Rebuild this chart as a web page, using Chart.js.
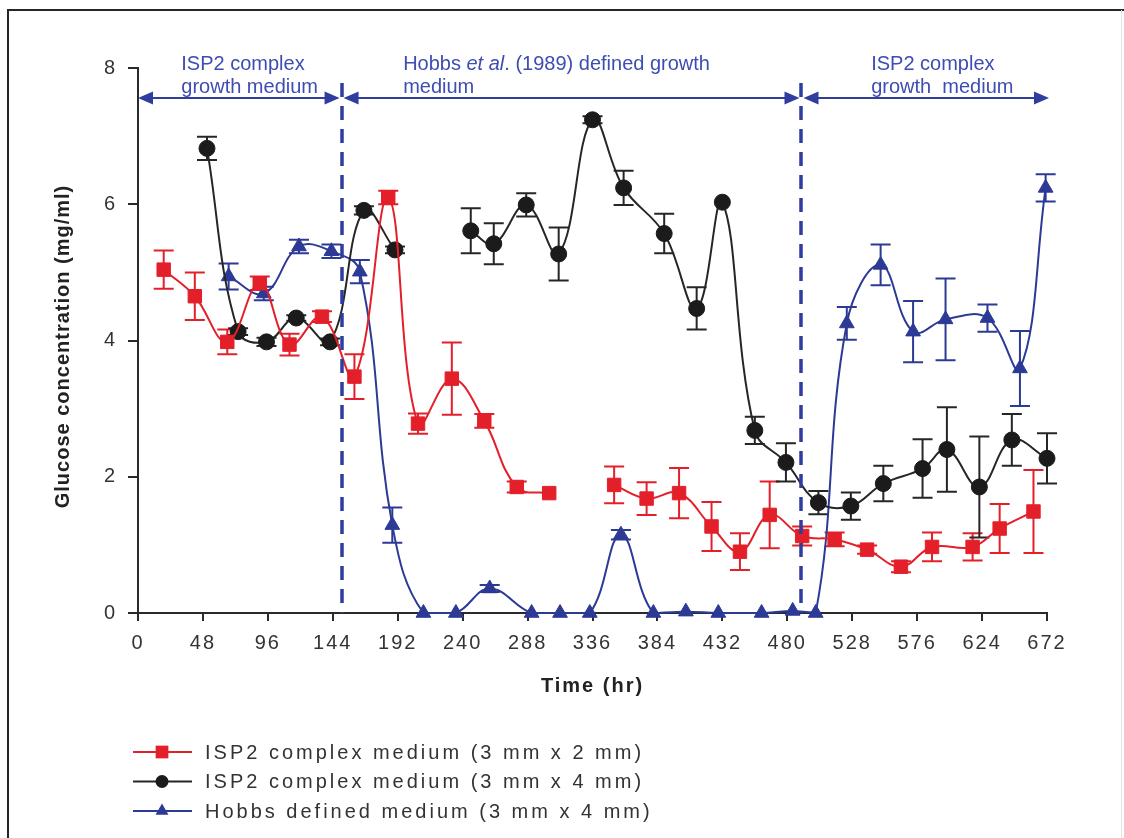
<!DOCTYPE html>
<html>
<head>
<meta charset="utf-8">
<title>Glucose concentration over time</title>
<script src="https://cdn.jsdelivr.net/npm/chart.js@4/dist/chart.umd.min.js"></script>
<style>
  html, body { margin: 0; padding: 0; background: #ffffff; }
  canvas { display: block; }
</style>
</head>
<body>
<canvas id="glucoseChart" width="1124" height="838"></canvas>
<script>
// ---- data ---------------------------------------------------------------
const xTickHours = [0, 48, 96, 144, 192, 240, 288, 336, 384, 432, 480, 528, 576, 624, 672];
const yTickValues = [0, 2, 4, 6, 8];

const seriesLabels = [
  'ISP2 complex medium (3 mm x 2 mm)',
  'ISP2 complex medium (3 mm x 4 mm)',
  'Hobbs defined medium (3 mm x 4 mm)'
];

// ISP2 complex medium, 3 mm x 2 mm beads (null = no sample taken)
const isp2SmallHours   = [19, 42, 66, 90, 112, 136, 160, 185, 207, 232, 256, 280, 304, 328, 352, 376, 400, 424, 445, 467, 491, 515, 539, 564, 587, 617, 637, 662];
const isp2SmallGlucose = [5.04, 4.65, 3.98, 4.84, 3.94, 4.35, 3.47, 6.10, 2.78, 3.44, 2.82, 1.85, 1.76, null, 1.88, 1.68, 1.76, 1.27, 0.90, 1.44, 1.13, 1.08, 0.93, 0.68, 0.97, 0.97, 1.24, 1.49];
const isp2SmallSd      = [0.28, 0.35, 0.18, 0.10, 0.16, 0.08, 0.33, 0.10, 0.15, 0.53, 0.10, 0.08, 0, null, 0.27, 0.24, 0.37, 0.36, 0.27, 0.49, 0.14, 0.10, 0.06, 0.08, 0.21, 0.20, 0.36, 0.61];

// ISP2 complex medium, 3 mm x 4 mm beads
const isp2LargeHours   = [51, 74, 95, 117, 142, 167, 190, 215, 246, 263, 287, 311, 336, 359, 389, 413, 432, 456, 479, 503, 527, 551, 580, 598, 622, 646, 672];
const isp2LargeGlucose = [6.82, 4.13, 3.98, 4.33, 3.98, 5.91, 5.33, null, 5.61, 5.42, 5.99, 5.27, 7.24, 6.24, 5.57, 4.47, 6.03, 2.68, 2.21, 1.62, 1.57, 1.90, 2.12, 2.40, 1.85, 2.54, 2.27];
const isp2LargeSd      = [0.17, 0.05, 0.06, 0.04, 0.05, 0.06, 0.05, null, 0.33, 0.30, 0.17, 0.39, 0.05, 0.25, 0.29, 0.31, 0, 0.20, 0.28, 0.17, 0.20, 0.26, 0.43, 0.62, 0.74, 0.38, 0.37];

// Hobbs defined medium, 3 mm x 4 mm beads
const hobbsHours   = [67, 93, 119, 143, 164, 188, 211, 235, 260, 291, 312, 334, 357, 381, 405, 429, 461, 484, 501, 524, 549, 573, 597, 628, 652, 671];
const hobbsGlucose = [4.94, 4.69, 5.38, 5.31, 5.01, 1.29, 0, 0, 0.36, 0, 0, 0, 1.15, 0, 0.02, 0, 0, 0.03, 0, 4.25, 5.11, 4.13, 4.31, 4.33, 3.59, 6.24];
const hobbsSd      = [0.19, 0.10, 0.10, 0.10, 0.17, 0.26, 0, 0, 0.05, 0, 0, 0, 0.07, 0, 0, 0, 0, 0, 0, 0.24, 0.30, 0.45, 0.60, 0.20, 0.55, 0.20];

// medium changes (hours) and the phase captions above the plot
const mediumChangeHours = [150.5, 490.5];
const phaseSpans = [[0, 150.5], [150.5, 490.5], [490.5, 672]];
const phaseCaptionHours = [32, 196, 542];
const phaseCaptions = [
  [[['ISP2 complex', '']], [['growth medium', '']]],
  [[['Hobbs ', ''], ['et al', 'italic '], ['. (1989) defined growth', '']], [['medium', '']]],
  [[['ISP2 complex', '']], [['growth  medium', '']]]
];
const arrowLevel = 7.56;

// ---- styling ------------------------------------------------------------
const FONT = "'Liberation Sans', Arial, Helvetica, sans-serif";
const RED = '#e3202a';
const BLACK = '#1b1b1b';
const BLUE = '#2c3a96';
const NOTE_BLUE = '#2f3d9f';
const NOTE_TEXT = '#3d4db2';
const AXIS = '#2a2a2a';
const AXIS_TEXT = '#333333';

function toPoints(hours, values) {
  return hours.map((h, i) => ({ x: h, y: values[i] }));
}

// axis labels in this figure are set with a little extra tracking
const axisTracking = {
  id: 'axisTracking',
  beforeDraw(chart) { chart.ctx.letterSpacing = '2px'; },
  beforeDatasetsDraw(chart) { chart.ctx.letterSpacing = '0px'; }
};

// vertical +/- SD bars with caps, drawn underneath the markers
const errorBars = {
  id: 'errorBars',
  beforeDatasetsDraw(chart) {
    const ctx = chart.ctx;
    const yScale = chart.scales.y;
    chart.data.datasets.forEach((ds, i) => {
      const meta = chart.getDatasetMeta(i);
      ctx.save();
      ctx.strokeStyle = ds.borderColor;
      ctx.lineWidth = 2;
      meta.data.forEach((pt, j) => {
        const v = ds.data[j].y;
        const e = ds.errorBars[j];
        if (v == null || !e) return;
        const top = yScale.getPixelForValue(v + e);
        const bot = yScale.getPixelForValue(v - e);
        ctx.beginPath();
        ctx.moveTo(pt.x, top); ctx.lineTo(pt.x, bot);
        ctx.moveTo(pt.x - 10, top); ctx.lineTo(pt.x + 10, top);
        ctx.moveTo(pt.x - 10, bot); ctx.lineTo(pt.x + 10, bot);
        ctx.stroke();
      });
      ctx.restore();
    });
  }
};

function arrowHead(ctx, tipX, y, dir) {
  ctx.beginPath();
  ctx.moveTo(tipX, y);
  ctx.lineTo(tipX - dir * 15, y - 6.5);
  ctx.lineTo(tipX - dir * 15, y + 6.5);
  ctx.closePath();
  ctx.fill();
}

// medium-change markers: dashed boundaries, double arrows, captions
const mediumPhases = {
  id: 'mediumPhases',
  afterDatasetsDraw(chart) {
    const ctx = chart.ctx;
    const xs = chart.scales.x, ys = chart.scales.y;
    const ay = ys.getPixelForValue(arrowLevel);
    const y0 = ys.getPixelForValue(0);
    ctx.save();
    ctx.strokeStyle = NOTE_BLUE;
    ctx.fillStyle = NOTE_BLUE;
    ctx.lineWidth = 3.5;
    ctx.setLineDash([14, 9]);
    mediumChangeHours.forEach(h => {
      const px = Math.round(xs.getPixelForValue(h));
      ctx.beginPath();
      ctx.moveTo(px, ay - 15);
      ctx.lineTo(px, y0);
      ctx.stroke();
    });
    ctx.setLineDash([]);
    ctx.lineWidth = 2;
    phaseSpans.forEach(([a, b]) => {
      const x0 = xs.getPixelForValue(a) + (a > 0 ? 2 : 0);
      const x1 = xs.getPixelForValue(b) - (b < 672 ? 2 : -2);
      ctx.beginPath();
      ctx.moveTo(x0 + 6, ay);
      ctx.lineTo(x1 - 6, ay);
      ctx.stroke();
      arrowHead(ctx, x0, ay, -1);
      arrowHead(ctx, x1, ay, 1);
    });
    ctx.fillStyle = NOTE_TEXT;
    ctx.textBaseline = 'alphabetic';
    ctx.textAlign = 'left';
    phaseCaptions.forEach((lines, k) => {
      const left = xs.getPixelForValue(phaseCaptionHours[k]);
      lines.forEach((runs, li) => {
        let cx = left;
        const by = ay - 28 + li * 23.5;
        runs.forEach(([txt, style]) => {
          ctx.font = style + '20px ' + FONT;
          ctx.fillText(txt, cx, by);
          cx += ctx.measureText(txt).width;
        });
      });
    });
    ctx.restore();
  }
};

function drawMarker(ctx, style, x, y, r) {
  ctx.beginPath();
  if (style === 'rect') {
    const s = r * Math.SQRT1_2;
    ctx.rect(x - s, y - s, 2 * s, 2 * s);
  } else if (style === 'triangle') {
    for (let k = 0; k < 3; k++) {
      const a = k * 2 * Math.PI / 3;
      const px = x + Math.sin(a) * r, py = y - Math.cos(a) * r;
      if (k === 0) ctx.moveTo(px, py); else ctx.lineTo(px, py);
    }
    ctx.closePath();
  } else {
    ctx.arc(x, y, r, 0, Math.PI * 2);
  }
  ctx.fill();
}

// legend under the plot, y-axis title and the figure frame
const figureExtras = {
  id: 'figureExtras',
  afterDraw(chart) {
    const ctx = chart.ctx;
    const area = chart.chartArea;
    ctx.save();
    ctx.letterSpacing = '0px';

    // legend
    const legendMarkerSize = [9, 6.5, 7.5];
    chart.data.datasets.forEach((ds, i) => {
      const rowY = area.bottom + 139 + i * 29.5;
      ctx.strokeStyle = ds.borderColor;
      ctx.fillStyle = ds.pointBackgroundColor;
      ctx.lineWidth = 2;
      ctx.beginPath();
      ctx.moveTo(area.left - 5, rowY);
      ctx.lineTo(area.left + 54, rowY);
      ctx.stroke();
      drawMarker(ctx, ds.pointStyle, area.left + 24, rowY, legendMarkerSize[i]);
      ctx.fillStyle = AXIS_TEXT;
      ctx.font = '20px ' + FONT;
      ctx.letterSpacing = '3px';
      ctx.textAlign = 'left';
      ctx.textBaseline = 'middle';
      ctx.fillText(ds.label, area.left + 67, rowY + 1);
      ctx.letterSpacing = '0px';
    });

    // y-axis title
    ctx.save();
    ctx.translate(area.left - 75, (area.top + area.bottom) / 2 + 6);
    ctx.rotate(-Math.PI / 2);
    ctx.font = 'bold 20px ' + FONT;
    ctx.letterSpacing = '1px';
    ctx.fillStyle = '#222222';
    ctx.textAlign = 'center';
    ctx.textBaseline = 'middle';
    ctx.fillText('Glucose concentration (mg/ml)', 0, 0);
    ctx.restore();

    // frame
    ctx.strokeStyle = '#262626';
    ctx.lineWidth = 2;
    ctx.beginPath();
    ctx.moveTo(8, 838);
    ctx.lineTo(8, 10);
    ctx.lineTo(1124, 10);
    ctx.stroke();
    ctx.strokeStyle = '#e4e4e4';
    ctx.lineWidth = 1;
    ctx.beginPath();
    ctx.moveTo(1121.5, 10);
    ctx.lineTo(1121.5, 838);
    ctx.stroke();
    ctx.restore();
  }
};

function seriesStyle(color, markerColor, pointStyle, radius) {
  return {
    borderColor: color,
    backgroundColor: markerColor,
    pointBackgroundColor: markerColor,
    pointBorderColor: markerColor,
    pointStyle: pointStyle,
    pointRadius: radius,
    pointBorderWidth: 1,
    borderWidth: 2,
    tension: 0.4,
    spanGaps: false,
    clip: 14
  };
}

new Chart(document.getElementById('glucoseChart'), {
  type: 'line',
  data: {
    datasets: [
      Object.assign({ label: seriesLabels[0], data: toPoints(isp2SmallHours, isp2SmallGlucose), errorBars: isp2SmallSd },
        seriesStyle(RED, RED, 'rect', 9.5)),
      Object.assign({ label: seriesLabels[1], data: toPoints(isp2LargeHours, isp2LargeGlucose), errorBars: isp2LargeSd },
        seriesStyle('#262626', BLACK, 'circle', 8)),
      Object.assign({ label: seriesLabels[2], data: toPoints(hobbsHours, hobbsGlucose), errorBars: hobbsSd },
        seriesStyle(BLUE, BLUE, 'triangle', 8.5))
    ]
  },
  options: {
    responsive: false,
    animation: false,
    devicePixelRatio: 1,
    events: [],
    layout: { padding: { left: 0, right: 77, top: 68, bottom: 136 } },
    plugins: {
      legend: { display: false },
      tooltip: { enabled: false }
    },
    scales: {
      x: {
        type: 'linear',
        min: 0,
        max: 672,
        afterBuildTicks: s => { s.ticks = xTickHours.map(v => ({ value: v })); },
        afterFit: s => { s.height = 89; },
        grid: { drawOnChartArea: false, drawTicks: true, tickLength: 8, color: AXIS, lineWidth: 2 },
        border: { color: AXIS, width: 2 },
        ticks: {
          color: AXIS_TEXT,
          font: { family: FONT, size: 20 },
          padding: 10,
          maxRotation: 0,
          autoSkip: false
        },
        title: {
          display: true,
          text: 'Time (hr)',
          color: '#222222',
          font: { family: FONT, size: 20, weight: 'bold' },
          padding: { top: 0, bottom: 4 }
        }
      },
      y: {
        type: 'linear',
        min: 0,
        max: 8,
        afterBuildTicks: s => { s.ticks = yTickValues.map(v => ({ value: v })); },
        afterFit: s => { s.width = 138; },
        grid: { drawOnChartArea: false, drawTicks: true, tickLength: 10, color: AXIS, lineWidth: 2 },
        border: { color: AXIS, width: 2 },
        ticks: {
          color: AXIS_TEXT,
          font: { family: FONT, size: 20 },
          padding: 11
        },
        title: { display: false }
      }
    }
  },
  plugins: [axisTracking, errorBars, mediumPhases, figureExtras]
});
</script>
</body>
</html>
